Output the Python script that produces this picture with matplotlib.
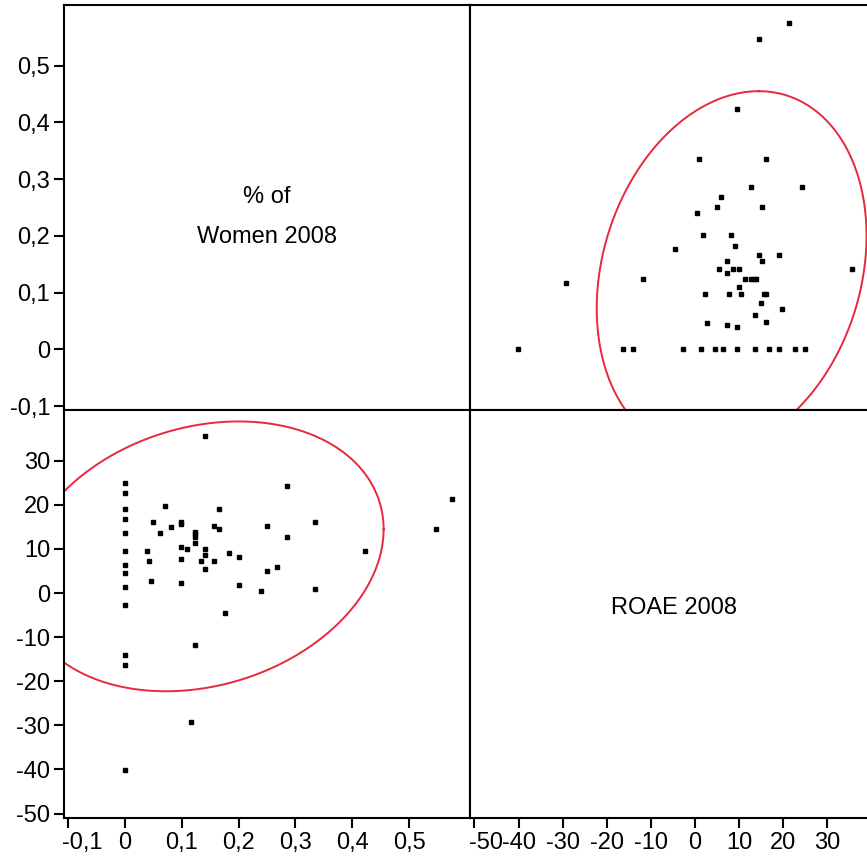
import numpy as np
import matplotlib
matplotlib.use("Agg")
from matplotlib import pyplot as plt
from matplotlib.transforms import ScaledTranslation

plt.rcParams['font.family'] = ['Liberation Sans', 'DejaVu Sans']
plt.rcParams['axes.unicode_minus'] = False

# share of women on the board vs. return on average equity, 2008
women = [0.1415, 0, 0, 0, 0, 0, 0, 0, 0, 0, 0, 0, 0, 0,
         0.286, 0.575, 0.071, 0.166, 0.049, 0.098, 0.098, 0.335, 0.156, 0.250,
         0.081, 0.166, 0.547, 0.124, 0.124, 0.124, 0.061, 0.286, 0.124, 0.098,
         0.110, 0.1415, 0.039, 0.423, 0.183, 0.1415, 0.201, 0.0425, 0.098, 0.134,
         0.156, 0.1415, 0.268, 0.250, 0.046, 0.098, 0.201, 0.335, 0.240, 0.176,
         0.124, 0.117]
roae = [35.7, 24.9, 22.6, 19.0, 16.7, 13.6, 9.5, 6.3, 4.5, 1.4, -2.7, -14.0, -16.3, -40.1,
        24.3, 21.3, 19.8, 19.0, 16.2, 16.2, 15.7, 16.2, 15.3, 15.3,
        14.9, 14.5, 14.5, 13.9, 13.4, 12.8, 13.6, 12.7, 11.3, 10.4,
        10.0, 10.0, 9.5, 9.5, 9.0, 8.6, 8.1, 7.3, 7.7, 7.3,
        7.3, 5.4, 5.9, 5.0, 2.7, 2.3, 1.9, 0.9, 0.45, -4.5,
        -11.7, -29.3]

women_ticks = [-0.1, 0, 0.1, 0.2, 0.3, 0.4, 0.5]
women_labels = ['-0,1', '0', '0,1', '0,2', '0,3', '0,4', '0,5']
roae_ticks = [-50, -40, -30, -20, -10, 0, 10, 20, 30]
roae_labels = [str(t) for t in roae_ticks]

women_lim = (-0.107, 0.607)
roae_lim = (-51.0, 41.5)

w = np.array(women)
r = np.array(roae)

# 95% normal density ellipse
mean = np.array([w.mean(), r.mean()])
cov = np.cov(np.vstack([w, r]))
chol = np.linalg.cholesky(cov)
t = np.linspace(0, 2 * np.pi, 200)
circ = np.vstack([np.cos(t), np.sin(t)]) * np.sqrt(5.991)
ell = mean[:, None] + chol @ circ

fig = plt.figure(figsize=(8.67, 8.65), dpi=100)
x0, xm = 64 / 867, 470 / 867
wl, wr = xm - x0, 408 / 867
yt, ym, yb = 1 - 5 / 865, 1 - 410 / 865, 1 - 818 / 865

ax_tl = fig.add_axes([x0, ym, wl, yt - ym])
ax_tr = fig.add_axes([xm, ym, wr, yt - ym])
ax_bl = fig.add_axes([x0, yb, wl, ym - yb])
ax_br = fig.add_axes([xm, yb, wr, ym - yb])

red = '#e8283c'
fs = 17

for ax in (ax_tl, ax_tr, ax_bl, ax_br):
    for s in ax.spines.values():
        s.set_linewidth(1.5)
    ax.tick_params(length=7, width=1.5, labelsize=fs, pad=3, direction='out')
    ax.set_xticks([])
    ax.set_yticks([])


def nudge(label, dx):
    label.set_horizontalalignment('left')
    label.set_transform(label.get_transform() + ScaledTranslation(dx / 100, 0, fig.dpi_scale_trans))


# diagonal labels
ax_tl.set_xlim(women_lim)
ax_tl.set_ylim(women_lim)
ax_tl.text(0.5, 0.526, '% of', transform=ax_tl.transAxes, ha='center', va='center', fontsize=fs)
ax_tl.text(0.5, 0.427, 'Women 2008', transform=ax_tl.transAxes, ha='center', va='center', fontsize=fs)
ax_tl.set_yticks(women_ticks)
ax_tl.set_yticklabels(women_labels)

ax_br.set_xlim(roae_lim)
ax_br.set_ylim(roae_lim)
ax_br.text(0.5, 0.515, 'ROAE 2008', transform=ax_br.transAxes, ha='center', va='center', fontsize=fs)
ax_br.set_xticks(roae_ticks)
ax_br.set_xticklabels(roae_labels)
nudge(ax_br.get_xticklabels()[0], -5)

# women vs roae
ax_bl.plot(w, r, 's', ms=3, color='black', ls='none')
ax_bl.plot(ell[0], ell[1], color=red, lw=1.4)
ax_bl.set_xlim(women_lim)
ax_bl.set_ylim(roae_lim)
ax_bl.set_xticks(women_ticks)
ax_bl.set_xticklabels(women_labels)
nudge(ax_bl.get_xticklabels()[0], -6)
ax_bl.set_yticks(roae_ticks)
ax_bl.set_yticklabels(roae_labels)

# roae vs women
ax_tr.plot(r, w, 's', ms=3, color='black', ls='none')
ax_tr.plot(ell[1], ell[0], color=red, lw=1.4)
ax_tr.set_xlim(roae_lim)
ax_tr.set_ylim(women_lim)

fig.savefig('out.png', dpi=100)
